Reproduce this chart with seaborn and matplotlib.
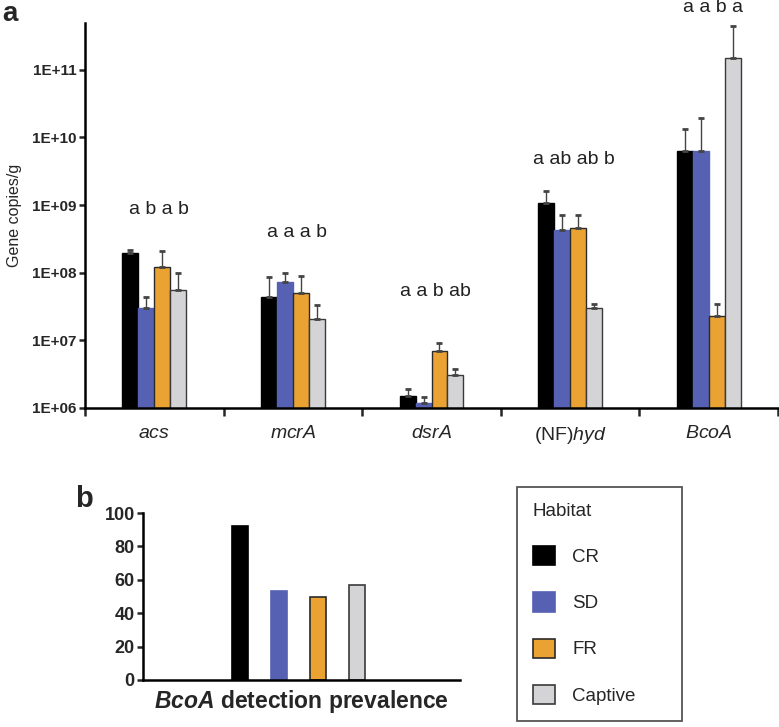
import numpy as np
import pandas as pd
import matplotlib
matplotlib.use("Agg")
import matplotlib.pyplot as plt
from matplotlib.patches import Patch
from matplotlib.ticker import FixedLocator, FuncFormatter
import seaborn as sns

# data
genes = ['acs', 'mcrA', 'dsrA', '(NF)hyd', 'BcoA']
gene_labels = [r'$\mathit{acs}$', r'$\mathit{mcrA}$', r'$\mathit{dsrA}$',
               r'(NF)$\mathit{hyd}$', r'$\mathit{BcoA}$']
habitats = ['CR', 'SD', 'FR', 'Captive']

cr_mean = [1.95e8, 4.4e7, 1.5e6, 1.08e9, 6.3e9]
sd_mean = [3.0e7, 7.2e7, 1.2e6, 4.3e8, 6.2e9]
fr_mean = [1.2e8, 5.0e7, 7.0e6, 4.6e8, 2.3e7]
cap_mean = [5.6e7, 2.1e7, 3.1e6, 3.0e7, 1.5e11]

# upper error (only the upper whisker is drawn)
cr_err = [2.5e7, 4.3e7, 4.0e5, 5.2e8, 7.2e9]
sd_err = [1.3e7, 2.8e7, 2.5e5, 2.9e8, 1.33e10]
fr_err = [9.0e7, 3.9e7, 2.1e6, 2.6e8, 1.2e7]
cap_err = [4.4e7, 1.2e7, 7.0e5, 5.0e6, 2.9e11]

letters = ['a b a b', 'a a a b', 'a a b ab', 'a ab ab b', 'a a b a']
letter_y = [8.5e8, 3.9e8, 5.2e7, 4.7e9, 8.3e11]

prevalence = [92, 53, 50, 57]

colors = {'CR': '#000000', 'SD': '#5661B3', 'FR': '#EAA233', 'Captive': '#D4D4D6'}
edges = {'CR': '#000000', 'SD': '#5661B3', 'FR': '#2a2a2a', 'Captive': '#3a3a3a'}

sns.set_style('white')
plt.rcParams['font.family'] = ['Liberation Sans', 'DejaVu Sans']
plt.rcParams['mathtext.fontset'] = 'custom'
plt.rcParams['mathtext.rm'] = 'Liberation Sans'
plt.rcParams['mathtext.it'] = 'Liberation Sans:italic'
plt.rcParams['mathtext.bf'] = 'Liberation Sans:bold'
plt.rcParams['mathtext.bfit'] = 'Liberation Sans:italic:bold'

df = pd.DataFrame({
    'gene': genes * 4,
    'habitat': np.repeat(habitats, len(genes)),
    'copies': cr_mean + sd_mean + fr_mean + cap_mean,
})
errs = [cr_err, sd_err, fr_err, cap_err]

fig = plt.figure(figsize=(7.79, 7.27), dpi=100)

# ---- panel a ----
ax1 = fig.add_axes([85 / 779, 1 - 408 / 727, 693 / 779, 385 / 727])
ax1.set_yscale('log')
sns.barplot(data=df, x='gene', y='copies', hue='habitat', hue_order=habitats,
            order=genes, palette=colors, saturation=1, width=0.46, ax=ax1,
            linewidth=1.0)
ax1.get_legend().remove()

bar_groups = list(ax1.containers)
for i, cont in enumerate(bar_groups):
    h = habitats[i]
    for bar, e in zip(cont, errs[i]):
        bar.set_edgecolor(edges[h])
        xc = bar.get_x() + bar.get_width() / 2
        top = bar.get_y() + bar.get_height()
        ax1.errorbar(xc, top, yerr=[[0], [e]], color='#444444', lw=1.0,
                     capsize=2, capthick=2, zorder=1)

for i, txt in enumerate(letters):
    ax1.text(i + 0.03, letter_y[i], txt, ha='center', va='center',
             fontsize=14, color='#222222', clip_on=False)

ax1.set_xlim(-0.5, 4.5)
ax1.set_ylim(1e6, 10 ** 11.69)
ax1.yaxis.set_major_locator(FixedLocator([1e6, 1e7, 1e8, 1e9, 1e10, 1e11]))
ax1.yaxis.set_minor_locator(FixedLocator([]))
ax1.yaxis.set_major_formatter(FuncFormatter(lambda v, p: '1E+%02d' % round(np.log10(v))))
ax1.set_xticks(range(len(genes)))
ax1.set_xticklabels(gene_labels, fontsize=14)
ax1.set_xticks(np.arange(-0.5, 5, 1), minor=True)
ax1.tick_params(axis='x', which='major', length=0, pad=12)
ax1.tick_params(axis='x', which='minor', length=6, width=1.8, direction='out', bottom=True)
ax1.tick_params(axis='y', length=4, width=1.8, direction='out', left=True, labelsize=11, pad=2)
for lab in ax1.get_yticklabels():
    lab.set_fontweight('bold')
ax1.set_xlabel('')
ax1.set_ylabel('Gene copies/g', fontsize=11.5)
ax1.yaxis.set_label_coords(-0.091, 0.5)
for s in ['top', 'right']:
    ax1.spines[s].set_visible(False)
for s in ['left', 'bottom']:
    ax1.spines[s].set_linewidth(1.8)
    ax1.spines[s].set_color('black')

# ---- panel b ----
dfb = pd.DataFrame({'habitat': habitats, 'prevalence': prevalence})
ax2 = fig.add_axes([143 / 779, 1 - 680 / 727, 317 / 779, 167 / 727])
sns.barplot(data=dfb, x='habitat', y='prevalence', hue='habitat', order=habitats,
            hue_order=habitats, palette=colors, saturation=1, width=0.42, ax=ax2,
            linewidth=1.2, legend=False)
for bar, h in zip(ax2.patches, habitats):
    bar.set_edgecolor(edges[h])
ax2.set_xlim(-2.49, 5.64)
ax2.set_ylim(0, 100)
ax2.set_yticks(range(0, 101, 20))
ax2.set_xticks([])
ax2.tick_params(axis='y', length=4, width=1.8, direction='out', left=True, labelsize=13, pad=2)
for lab in ax2.get_yticklabels():
    lab.set_fontweight('bold')
ax2.set_ylabel('')
ax2.set_xlabel(r'$\mathbfit{BcoA}$ detection prevalence', fontsize=16.5,
               fontweight='bold', labelpad=6)
for s in ['top', 'right']:
    ax2.spines[s].set_visible(False)
for s in ['left', 'bottom']:
    ax2.spines[s].set_linewidth(1.8)
    ax2.spines[s].set_color('black')

# panel letters
fig.text(2 / 779, 1 - 21 / 727, 'a', fontsize=20, fontweight='bold', va='baseline', ha='left')
fig.text(75 / 779, 1 - 507 / 727, 'b', fontsize=21, fontweight='bold', va='baseline', ha='left')

# legend
handles = [Patch(facecolor=colors[h], edgecolor=edges[h], linewidth=1.2) for h in habitats]
leg = fig.legend(handles, habitats, title='Habitat', loc='upper left',
                 bbox_to_anchor=(517 / 779, 0, 165 / 779, 1 - 487 / 727),
                 mode='expand', borderaxespad=0, frameon=True, fancybox=False,
                 edgecolor='#555555', framealpha=1, fontsize=13.5, title_fontsize=13.5,
                 labelspacing=1.4, handlelength=1.2, handleheight=1.2,
                 handletextpad=0.9, borderpad=0.85, alignment='left')
leg.get_frame().set_linewidth(1.3)

fig.savefig('out.png', dpi=100, facecolor='white')
